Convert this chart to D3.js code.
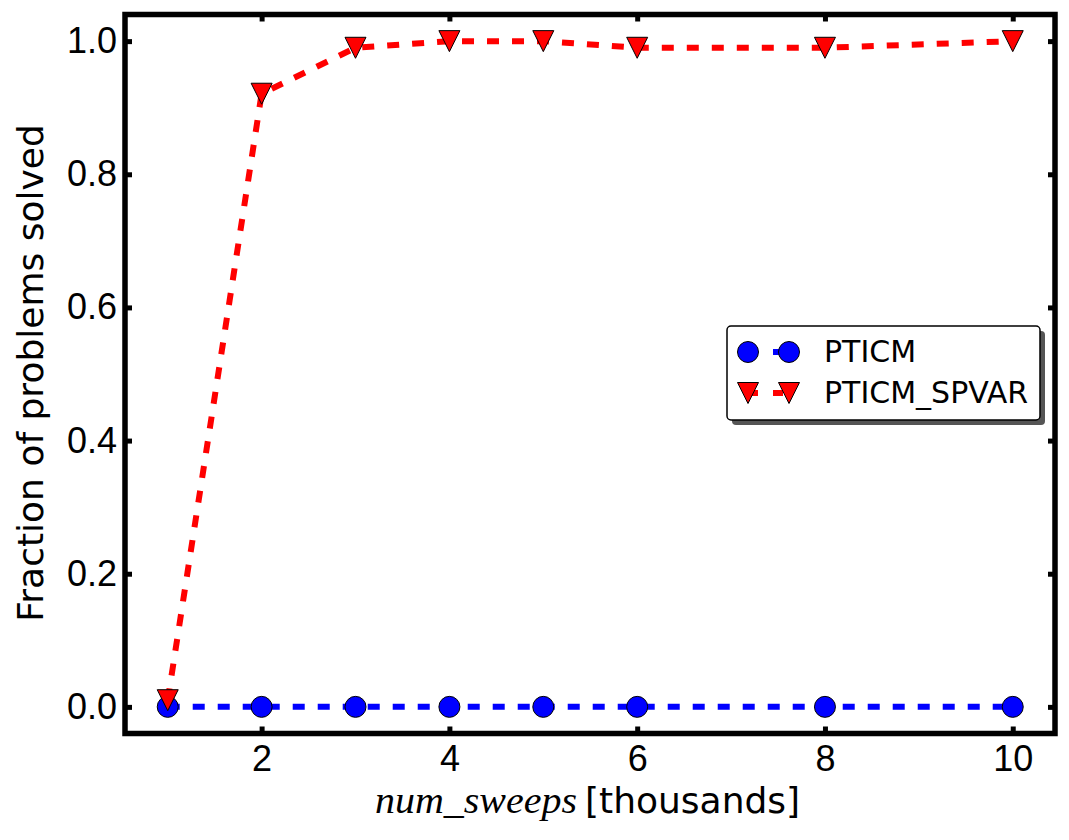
<!DOCTYPE html>
<html>
<head>
<meta charset="utf-8">
<script src="https://cdn.jsdelivr.net/npm/d3@7"></script>
<style>
body { margin:0; background:white; }
svg { font-family:"DejaVu Sans", sans-serif; }
.axis text { font-size:36px; fill:black; }
.axis line { stroke:black; stroke-width:5; }
.axis path { display:none; }
</style>
</head>
<body>
<svg id="svg1"></svg>
<script>
// values
var sweeps = [1,2,3,4,5,6,8,10]
var pticm = [0,0,0,0,0,0,0,0]
var pticmSpvar = [0.01,0.921,0.99,1.0,1.0,0.99,0.99,1.0]
var xTicks = [2,4,6,8,10]
var yTicks = [0,0.2,0.4,0.6,0.8,1.0]
var seriesNames = ["PTICM","PTICM_SPVAR"]

var screen = {width:1069,height:840}
var margins = {left:125,right:14,top:14.5,bottom:106.5}
var graph =
    {
        width:screen.width-margins.left-margins.right,
        height:screen.height-margins.top-margins.bottom
    }

var svg = d3.select("#svg1")
    .attr("width",screen.width)
    .attr("height",screen.height)

var xScale = d3.scaleLinear()
    .domain([0.545,10.45])
    .range([0,graph.width])

var yScale = d3.scaleLinear()
    .domain([-0.04,1.04])
    .range([graph.height,0])

var makeTranslateString = function(x,y)
{
    return "translate("+x+","+y+")";
}

var target = svg.append("g")
    .attr("transform",makeTranslateString(margins.left,margins.top))

var drawAxes = function()
{
    target.append("g").attr("class","axis")
        .attr("transform",makeTranslateString(0,graph.height))
        .call(d3.axisBottom(xScale).tickValues(xTicks).tickSize(-7).tickPadding(12))
    target.append("g").attr("class","axis")
        .call(d3.axisTop(xScale).tickValues(xTicks).tickSize(-7).tickFormat(""))
    target.append("g").attr("class","axis")
        .call(d3.axisLeft(yScale).tickValues(yTicks).tickSize(-7).tickPadding(8).tickFormat(d3.format(".1f")))
    target.append("g").attr("class","axis")
        .attr("transform",makeTranslateString(graph.width,0))
        .call(d3.axisRight(yScale).tickValues(yTicks).tickSize(-7).tickFormat(""))
}

var drawSeries = function(values,color,marker)
{
    var pts = sweeps.map(function(s,i){ return {x:s,y:values[i]} })
    var line = d3.line()
        .x(function(d){ return xScale(d.x) })
        .y(function(d){ return yScale(d.y) })
    target.append("path")
        .datum(pts)
        .attr("d",line)
        .attr("fill","none")
        .attr("stroke",color)
        .attr("stroke-width",6)
        .attr("stroke-dasharray","12,13")
    target.append("g").selectAll("path")
        .data(pts)
        .enter()
        .append("path")
        .attr("d",marker)
        .attr("transform",function(d){ return makeTranslateString(xScale(d.x),yScale(d.y)) })
        .attr("fill",color)
        .attr("stroke","black")
        .attr("stroke-width",1)
}

var circleMarker = "M10.5,0A10.5,10.5 0 1,1 -10.5,0A10.5,10.5 0 1,1 10.5,0Z"
var triMarker = "M-10.5,-10.5L10.5,-10.5L0,10.5Z"

drawAxes()
drawSeries(pticm,"blue",circleMarker)
drawSeries(pticmSpvar,"red",triMarker)

// frame
target.append("rect")
    .attr("width",graph.width)
    .attr("height",graph.height)
    .attr("fill","none")
    .attr("stroke","black")
    .attr("stroke-width",5.5)

var drawLabels = function()
{
    svg.append("text")
        .text("Fraction of problems solved")
        .attr("text-anchor","middle")
        .attr("font-size",36)
        .attr("transform","translate(43,373) rotate(270)")

    svg.append("text")
        .text("num_sweeps")
        .attr("x",375)
        .attr("y",813)
        .attr("font-family","Liberation Serif, serif")
        .attr("font-style","italic")
        .attr("font-size",37)
        .attr("textLength",202)
        .attr("lengthAdjust","spacingAndGlyphs")

    svg.append("text")
        .text("[thousands]")
        .attr("x",585)
        .attr("y",813)
        .attr("font-size",36)
}

var drawLegend = function()
{
    var legend = svg.append("g")
        .attr("transform",makeTranslateString(727,326))
    legend.append("rect")
        .attr("x",5).attr("y",5)
        .attr("width",313).attr("height",94)
        .attr("rx",4)
        .attr("fill","#555")
    legend.append("rect")
        .attr("width",313).attr("height",94)
        .attr("rx",4)
        .attr("fill","white")
        .attr("stroke","black")
        .attr("stroke-width",1.5)

    var entries = [
        {name:seriesNames[0],color:"blue",marker:circleMarker},
        {name:seriesNames[1],color:"red",marker:triMarker}
    ]
    var rows = legend.selectAll("g.entry")
        .data(entries)
        .enter()
        .append("g")
        .attr("class","entry")
        .attr("transform",function(d,i){ return makeTranslateString(0,26+i*41) })

    rows.append("line")
        .attr("x1",21).attr("x2",62)
        .attr("stroke",function(d){ return d.color })
        .attr("stroke-width",6)
        .attr("stroke-dasharray","10,15")
    rows.selectAll("path")
        .data(function(d){ return [d,d] })
        .enter()
        .append("path")
        .attr("d",function(d){ return d.marker })
        .attr("transform",function(d,i){ return makeTranslateString(i==0?21:62,0) })
        .attr("fill",function(d){ return d.color })
        .attr("stroke","black")
        .attr("stroke-width",1)
    rows.append("text")
        .text(function(d){ return d.name })
        .attr("x",97)
        .attr("y",-1)
        .attr("dy","0.35em")
        .attr("font-size",30)
}

drawLabels()
drawLegend()
</script>
</body>
</html>
